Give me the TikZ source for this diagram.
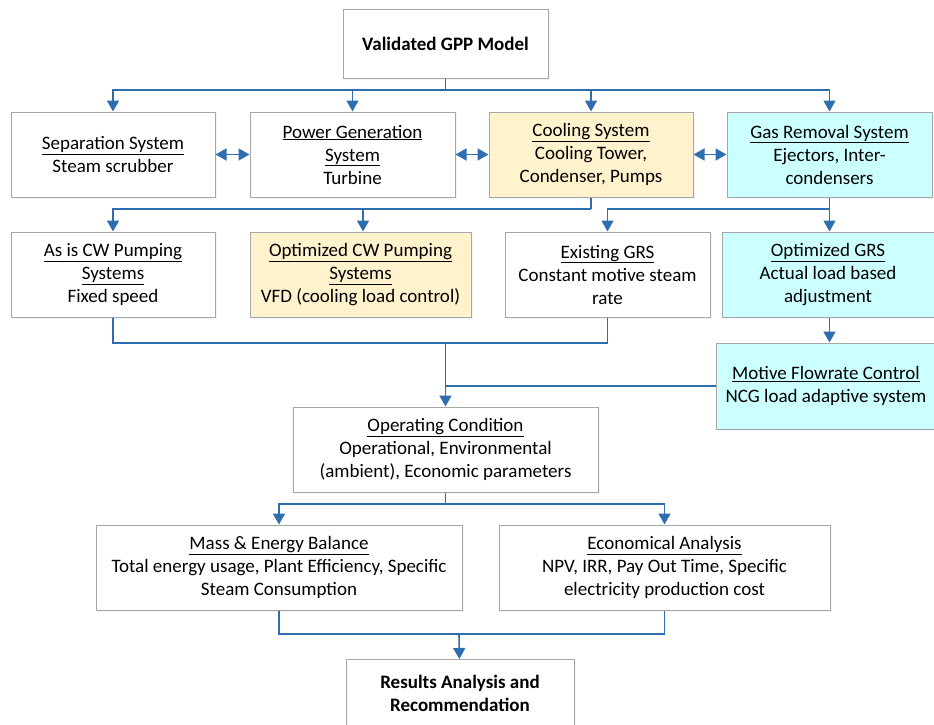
\documentclass[tikz,border=0pt]{standalone}
\usepackage{fontspec}
\setmainfont{Carlito}
\usepackage{xcolor}
\usepackage{tikz}
\usetikzlibrary{positioning,arrows.meta,shadows}
\definecolor{flowblue}{HTML}{2E6DAE}
\definecolor{boxgray}{HTML}{A6A6A6}
\definecolor{coolfill}{HTML}{FFF2CC}
\definecolor{gasfill}{HTML}{CCFFFF}
\tikzset{block/.style={draw=boxgray,line width=1pt,fill=white,rectangle,align=center,inner sep=1pt,
  minimum height=85pt,font=\fontsize{19}{23}\selectfont,
  drop shadow={shadow xshift=1.5pt,shadow yshift=-1.5pt,opacity=0.18,fill=flowblue!40}}}
\tikzset{coolblock/.style={block,fill=coolfill}}
\tikzset{gasblock/.style={block,fill=gasfill}}
\tikzset{boldblock/.style={block,font=\fontsize{19}{23}\selectfont\bfseries}}
\tikzset{link/.style={draw=flowblue,line width=1.6pt}}
\tikzset{arr/.style={link,-{Triangle[width=12pt,length=11pt]}}}
\tikzset{darr/.style={link,{Triangle[width=12pt,length=11pt]}-{Triangle[width=12pt,length=11pt]}}}
\newcommand{\ttl}[1]{\underline{#1}}

\begin{document}
\begin{tikzpicture}[x=1pt,y=-1pt]
		\useasboundingbox (0,0) rectangle (934,725);
		% model and the four systems
		\node[boldblock,minimum width=205pt,minimum height=68pt] (model) at (445.5,44) {Validated GPP Model};
		\node[block,minimum width=204pt] (sep) at (113,154.5) {\ttl{Separation System}\\Steam scrubber};
		\node[block,minimum width=205pt] (pow) at (352.5,154.5) {\ttl{Power Generation}\\\ttl{System}\\Turbine};
		\node[coolblock,minimum width=204pt] (cool) at (591,154.5) {\ttl{Cooling System}\\Cooling Tower,\\Condenser, Pumps};
		\node[gasblock,minimum width=205pt] (gas) at (829.5,154.5) {\ttl{Gas Removal System}\\Ejectors, Inter-\\condensers};
		% alternatives
		\node[block,minimum width=204pt] (asis) at (113,274.5) {\ttl{As is CW Pumping}\\\ttl{Systems}\\Fixed speed};
		\node[coolblock,minimum width=221pt] (optcw) at (360.5,274.5) {\ttl{Optimized CW Pumping}\\\ttl{Systems}\\VFD (cooling load control)};
		\node[block,minimum width=205pt] (exgrs) at (607.5,274.5) {\ttl{Existing GRS}\\Constant motive steam\\rate};
		\node[gasblock,minimum width=212pt] (optgrs) at (828,274.5) {\ttl{Optimized GRS}\\Actual load based\\adjustment};
		\node[gasblock,minimum width=220pt,minimum height=86pt] (motive) at (826,386) {\ttl{Motive Flowrate Control}\\NCG load adaptive system};
		% evaluation
		\node[block,minimum width=305pt] (oper) at (445.5,449.5) {\ttl{Operating Condition}\\Operational, Environmental\\(ambient), Economic parameters};
		\node[block,minimum width=366pt] (mass) at (279,567.5) {\ttl{Mass \& Energy Balance}\\Total energy usage, Plant Efficiency, Specific\\Steam Consumption};
		\node[block,minimum width=331pt] (econ) at (664.5,567.5) {\ttl{Economical Analysis}\\NPV, IRR, Pay Out Time, Specific\\electricity production cost};
		\node[boldblock,minimum width=228pt,minimum height=80pt,anchor=north,text depth=12pt] (res) at (460,659) {Results Analysis and\\Recommendation};
		% bus points
		\coordinate (bus1) at (445.5,90);
		\coordinate (bus2) at (591,209);
		\coordinate (bus3) at (829.5,209);
		\coordinate (bus4) at (445.5,343);
		\coordinate (bus5) at (445.5,504);
		\coordinate (bus6) at (459,634);
		% connectors
		\path[link] (model) -- (bus1);
		\path[arr] (bus1) -| (sep);
		\path[arr] (bus1) -| (pow);
		\path[arr] (bus1) -| (cool);
		\path[arr] (bus1) -| (gas);
		\path[darr] (sep) -- (sep -| pow.west);
		\path[darr] (pow) -- (pow -| cool.west);
		\path[darr] (cool) -- (cool -| gas.west);
		\path[link] (cool) -- (bus2);
		\path[arr] (bus2) -| (asis);
		\path[arr] (bus2) -| ([xshift=2.5pt]optcw.north);
		\path[link] (gas) -- (bus3);
		\path[arr] (bus3) -| (exgrs);
		\path[arr] (bus3) -- (optgrs.north -| bus3);
		\path[arr] (optgrs.south -| bus3) -- (motive.north -| bus3);
		\path[link] (asis) |- (bus4) -| (exgrs);
		\path[arr] (bus4) -- (oper);
		\path[link] (motive.west) -- (motive.west -| bus4);
		\path[link] (oper) -- (bus5);
		\path[arr] (bus5) -| (mass);
		\path[arr] (bus5) -| (econ);
		\path[link] (mass) |- (bus6) -| (econ);
		\path[arr] (bus6) -- (res);
	\end{tikzpicture}
\end{document}
